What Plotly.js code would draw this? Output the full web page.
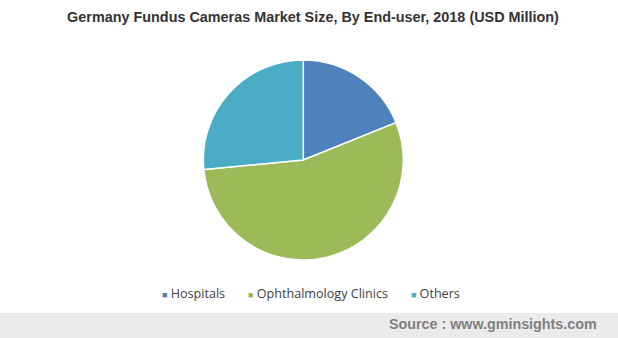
<!DOCTYPE html>
<html><head><meta charset="utf-8">
<script src="https://cdn.plot.ly/plotly-3.0.1.min.js"></script>
<style>html,body{margin:0;padding:0;background:#fff}#chart{width:618px;height:338px}</style>
</head><body><div id="chart"></div>
<script>
const categories = ["Hospitals", "Ophthalmology Clinics", "Others"];
const values = [18.9, 54.6, 26.5];
const colors = ["#4f81bd", "#9bbb59", "#4bacc6"];
const titleText = "Germany Fundus Cameras Market Size, By End-user, 2018 (USD Million)";
const sourceText = "Source : www.gminsights.com";

const W = 618, H = 338;
const trace = {
  type: "pie",
  labels: categories,
  values: values,
  sort: false,
  direction: "clockwise",
  rotation: 0,
  textinfo: "none",
  hoverinfo: "label+value",
  marker: {colors: colors, line: {color: "#ffffff", width: 1.5}},
  domain: {x: [203.3/W, 403.3/W], y: [1-260/H, 1-60/H]}
};
// Legend row built from categories and colors
const NB = "\u00a0";
const legendText = categories.map((c, i) =>
  "<span style='color:" + colors[i] + ";font-size:9px'>■</span>" + NB + c
).join(NB.repeat(7));

const layout = {
  width: W, height: H,
  margin: {l: 0, r: 0, t: 0, b: 0},
  paper_bgcolor: "#ffffff",
  title: {text: "<b>" + titleText + "</b>", font: {family: "Liberation Sans, Arial, sans-serif", size: 14.4, color: "#333333"}, x: 313/W, xanchor: "center", y: 1-17/H, yanchor: "middle"},
  showlegend: false,
  shapes: [{type: "rect", xref: "paper", yref: "paper", x0: 0, x1: 1, y0: 0, y1: (H-313)/H, fillcolor: "#ebebeb", line: {width: 0}, layer: "below"}],
  annotations: [
    {text: legendText, xref: "paper", yref: "paper", x: 311/W, xanchor: "center", y: 1-293/H, yanchor: "middle", showarrow: false,
     font: {family: "Open Sans, sans-serif", size: 12.6, color: "#404040"}},
    {text: "<b>" + sourceText + "</b>", xref: "paper", yref: "paper", x: 599/W, xanchor: "right", y: (H-324)/H, yanchor: "middle", showarrow: false,
     font: {family: "Liberation Sans, Arial, sans-serif", size: 14.3, color: "#7f7f7f"}}]
};
Plotly.newPlot("chart", [trace], layout, {displayModeBar: false, staticPlot: true});
</script></body></html>
